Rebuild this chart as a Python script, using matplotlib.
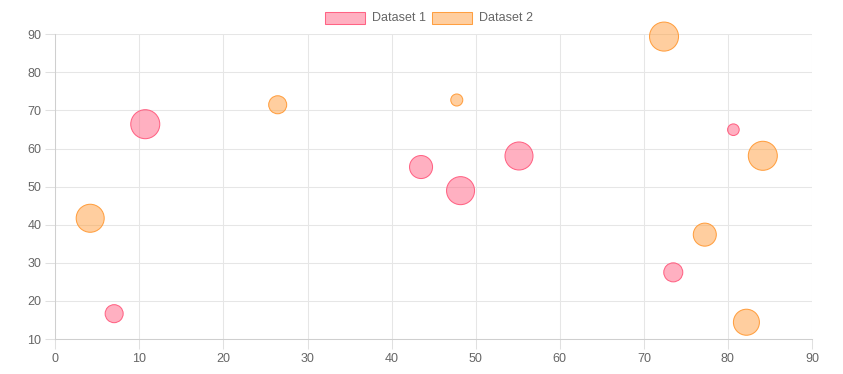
import matplotlib
matplotlib.use("Agg")
import matplotlib.pyplot as plt
from matplotlib.patches import Rectangle

# Data (x, y, r in pixels as in the bubble chart)
ds1_x = [10.7, 7.0, 43.5, 48.2, 55.15, 80.65, 73.5]
ds1_y = [66.4, 16.65, 55.15, 48.95, 58.05, 64.95, 27.5]
ds1_r = [14.5, 9, 11.5, 14, 14, 5.8, 9.5]

ds2_x = [4.15, 26.45, 47.75, 72.4, 84.15, 77.25, 82.2]
ds2_y = [41.7, 71.5, 72.75, 89.4, 58.1, 37.4, 14.4]
ds2_r = [14, 9, 6, 14.5, 14.5, 11.5, 13]

labels = ["Dataset 1", "Dataset 2"]
fills = [(255/255, 99/255, 132/255, 0.5), (255/255, 159/255, 64/255, 0.5)]
edges = ["#ff6384", "#ff9f40"]

W, H = 843, 374
DPI = 100
plt.rcParams['font.family'] = ['Liberation Sans', 'DejaVu Sans']
fig = plt.figure(figsize=(W / DPI, H / DPI), dpi=DPI)
left, right, top, bottom = 55.3, 812, 34.3, 339
ax = fig.add_axes([left / W, 1 - bottom / H, (right - left) / W, (bottom - top) / H])

def sizes(rs):
    return [(2 * r * 72 / DPI) ** 2 for r in rs]

for xs, ys, rs, fc, ec in [(ds1_x, ds1_y, ds1_r, fills[0], edges[0]),
                           (ds2_x, ds2_y, ds2_r, fills[1], edges[1])]:
    ax.scatter(xs, ys, s=sizes(rs), facecolor=fc, edgecolor=ec,
               linewidths=0.75, zorder=3, clip_on=False)

ax.set_xlim(0, 90)
ax.set_ylim(10, 90)
ax.set_xticks(range(0, 91, 10))
ax.set_yticks(range(10, 91, 10))
ax.grid(True, color="#e6e6e6", linewidth=0.75, zorder=0)
for s in ["top", "right"]:
    ax.spines[s].set_visible(False)
for s in ["left", "bottom"]:
    ax.spines[s].set_color("#cfcfcf")
    ax.spines[s].set_linewidth(0.75)
ax.tick_params(axis="both", colors="#e0e0e0", labelcolor="#666666",
               length=7, width=0.75, labelsize=9, pad=3)
ax.set_axisbelow(True)

# Legend drawn manually at top center
legend_items = [(325, 372, 0), (432, 479, 1)]
for bx, tx, i in legend_items:
    rect = Rectangle((bx / W, 1 - 24.3 / H), 40 / W, 12 / H,
                     transform=fig.transFigure, facecolor=fills[i],
                     edgecolor=edges[i], linewidth=0.75)
    fig.patches.append(rect)
    fig.text(tx / W, 1 - 18.3 / H, labels[i], fontsize=9, color="#666666",
             va="center", ha="left")

fig.savefig("out.png", dpi=DPI)
